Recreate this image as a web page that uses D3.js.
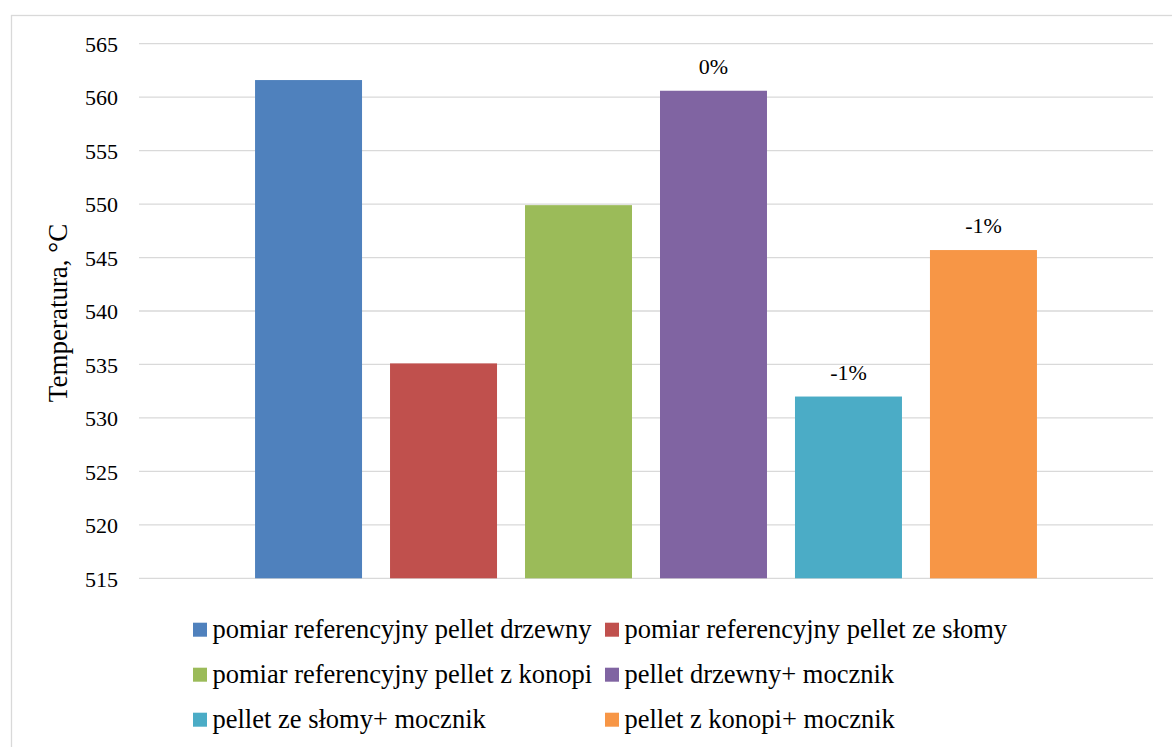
<!DOCTYPE html>
<html>
<head>
<meta charset="utf-8">
<script src="https://cdn.jsdelivr.net/npm/d3@7"></script>
<style>
  html, body { margin: 0; padding: 0; background: #fff; }
  svg { display: block; }
  text { font-family: "Liberation Serif", "Times New Roman", serif; fill: #000; }
</style>
</head>
<body>
<svg id="chart" width="1172" height="747"></svg>
<script>
// Flue gas temperature per fuel variant
const series = [
  "pomiar referencyjny pellet drzewny",
  "pomiar referencyjny pellet ze słomy",
  "pomiar referencyjny pellet z konopi",
  "pellet drzewny+ mocznik",
  "pellet ze słomy+ mocznik",
  "pellet z konopi+ mocznik"
];
const values = [561.6, 535.1, 549.9, 560.6, 532.0, 545.7];
const changeLabels = ["", "", "", "0%", "-1%", "-1%"];
const colors = ["#4f81bd", "#c0504d", "#9bbb59", "#8064a2", "#4bacc6", "#f79646"];
const yTicks = [515, 520, 525, 530, 535, 540, 545, 550, 555, 560, 565];
const yTitle = "Temperatura, °C";

const FONT = "'Liberation Serif', 'Times New Roman', serif";
const svg = d3.select("#chart");

// outer chart frame
svg.append("rect")
  .attr("x", 11.5).attr("y", 15.5)
  .attr("width", 1175).attr("height", 760)
  .attr("fill", "none").attr("stroke", "#d9d9d9").attr("stroke-width", 1.3);

const plot = { left: 139, right: 1153, top: 43.7, bottom: 578.3 };

const y = d3.scaleLinear().domain([515, 565]).range([plot.bottom, plot.top]);

const xGroup = d3.scaleBand().domain(["g"]).range([plot.left, plot.right])
  .paddingInner(0).paddingOuter(0.126);
const x = d3.scaleBand().domain(series).range([0, xGroup.bandwidth()])
  .paddingInner(0.2074).paddingOuter(0.1037);

// gridlines
svg.append("g").selectAll("line").data(yTicks).join("line")
  .attr("x1", plot.left).attr("x2", plot.right)
  .attr("y1", d => y(d)).attr("y2", d => y(d))
  .attr("stroke", "#d9d9d9").attr("stroke-width", 1.3);

// y axis tick labels
const yAxis = d3.axisLeft(y).tickValues(yTicks).tickSize(0).tickPadding(0);
const gy = svg.append("g").attr("transform", `translate(${plot.left - 21},0)`).call(yAxis);
gy.select(".domain").remove();
gy.selectAll("text")
  .style("font-family", FONT)
  .style("font-size", "22px").attr("fill", "#000").attr("dy", "0.35em");

// axis title
svg.append("text")
  .attr("transform", `translate(67,313) rotate(-90)`)
  .attr("text-anchor", "middle")
  .style("font-family", FONT)
  .style("font-size", "27px")
  .text(yTitle);

// bars
const g = svg.append("g").attr("transform", `translate(${xGroup("g")},0)`);
g.selectAll("rect").data(series).join("rect")
  .attr("x", d => x(d))
  .attr("width", x.bandwidth())
  .attr("y", (d, i) => y(values[i]))
  .attr("height", (d, i) => y(515) - y(values[i]))
  .attr("fill", (d, i) => colors[i]);

// change labels above bars
g.selectAll("text.lbl").data(series).join("text")
  .attr("class", "lbl")
  .attr("x", d => x(d) + x.bandwidth() / 2)
  .attr("y", (d, i) => y(values[i]) - 17)
  .attr("text-anchor", "middle")
  .style("font-family", FONT)
  .style("font-size", "22px")
  .text((d, i) => changeLabels[i]);

// legend: two columns, three rows
const legendCols = [193, 605];
const legendRows = [629.7, 674.7, 719.7];
const lg = svg.append("g").selectAll("g").data(series).join("g")
  .attr("transform", (d, i) => `translate(${legendCols[i % 2]},${legendRows[Math.floor(i / 2)]})`);
lg.append("rect")
  .attr("x", 0).attr("y", -7).attr("width", 14).attr("height", 14)
  .attr("fill", (d, i) => colors[i]);
lg.append("text")
  .attr("x", 19.5).attr("y", 0).attr("dy", "0.32em")
  .style("font-family", FONT)
  .style("font-size", "26.5px")
  .text(d => d);
</script>
</body>
</html>
